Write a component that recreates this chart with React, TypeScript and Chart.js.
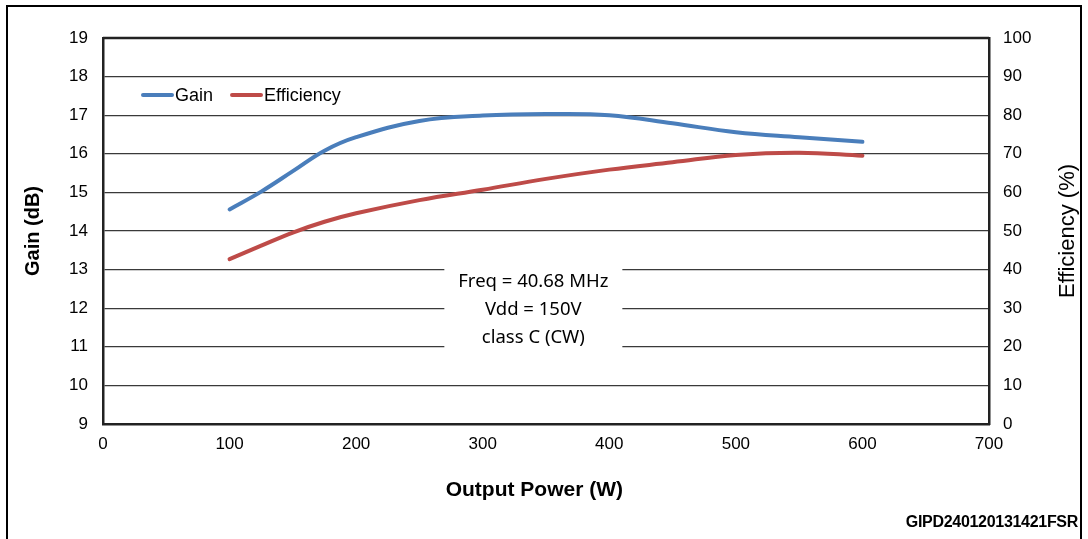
import React, { useEffect, useRef } from "react";
import { Chart, registerables } from "chart.js";

Chart.register(...registerables);

const powerW = [100, 125, 150, 175, 200, 250, 300, 350, 400, 450, 500, 550, 600];
const gainDb = [14.56, 15.02, 15.55, 16.08, 16.43, 16.85, 16.99, 17.03, 17.0, 16.79, 16.56, 16.43, 16.31];
const efficiencyPct = [42.7, 46.2, 49.6, 52.4, 54.6, 58.0, 60.7, 63.5, 65.9, 67.8, 69.7, 70.3, 69.5];

const annotationLines = ["Freq = 40.68 MHz", "Vdd = 150V", "class C (CW)"];
const seriesNames = ["Gain", "Efficiency"];
const seriesColors = ["#4A7EBB", "#BE4B48"];
const rightAxisTitle = "Efficiency (%)";
const figureCode = "GIPD240120131421FSR";

const ARIAL = "'Liberation Sans', Arial, sans-serif";

export default function App() {
  const canvasRef = useRef<HTMLCanvasElement | null>(null);

  useEffect(() => {
    const canvas = canvasRef.current;
    if (!canvas) return;

    const decorPlugin = {
      id: "decor",
      beforeDatasetsDraw(chart: any) {
        const { ctx, chartArea, scales } = chart;
        // annotation box
        const cx = scales.x.getPixelForValue(340);
        const cy = scales.y.getPixelForValue(12);
        ctx.save();
        ctx.fillStyle = "#ffffff";
        ctx.fillRect(cx - 89, cy - 45, 178, 90);
        ctx.fillStyle = "#000";
        ctx.font = `18.5px 'Noto Sans', sans-serif`;
        ctx.textAlign = "center";
        ctx.textBaseline = "middle";
        annotationLines.forEach((t, i) => {
          ctx.fillText(t, cx, cy + 2 + (i - 1) * 28);
        });
        // top border
        ctx.strokeStyle = "#222";
        ctx.lineWidth = 2.5;
        ctx.beginPath();
        ctx.moveTo(chartArea.left, chartArea.top);
        ctx.lineTo(chartArea.right, chartArea.top);
        ctx.stroke();
        ctx.restore();
      },
      afterDatasetsDraw(chart: any) {
        const { ctx, chartArea } = chart;
        ctx.save();
        // legend inside plot
        ctx.font = `18px ${ARIAL}`;
        ctx.textBaseline = "middle";
        ctx.textAlign = "left";
        const y = chartArea.top + 57;
        let x = chartArea.left + 40;
        chart.data.datasets.forEach((ds: any) => {
          ctx.strokeStyle = ds.borderColor;
          ctx.lineWidth = 4;
          ctx.lineCap = "round";
          ctx.beginPath();
          ctx.moveTo(x, y);
          ctx.lineTo(x + 29, y);
          ctx.stroke();
          ctx.fillStyle = "#000";
          ctx.fillText(ds.label, x + 32, y + 1);
          x += 32 + ctx.measureText(ds.label).width + 19;
        });
        // right axis title, reading bottom-to-top
        ctx.translate(1068, (chartArea.top + chartArea.bottom) / 2);
        ctx.rotate(-Math.PI / 2);
        ctx.font = `22px ${ARIAL}`;
        ctx.textAlign = "center";
        ctx.textBaseline = "middle";
        ctx.fillStyle = "#000";
        ctx.fillText(rightAxisTitle, 0, 0);
        ctx.restore();
      },
    };

    const lineDefaults = {
      borderWidth: 4,
      borderCapStyle: "round",
      borderJoinStyle: "round",
      pointRadius: 0,
      tension: 0.4,
    };

    const chart = new Chart(canvas, {
      type: "line",
      data: {
        labels: powerW,
        datasets: [
          {
            ...lineDefaults,
            label: seriesNames[0],
            data: powerW.map((p, i) => ({ x: p, y: gainDb[i] })),
            borderColor: seriesColors[0],
            backgroundColor: seriesColors[0],
            yAxisID: "y",
          },
          {
            ...lineDefaults,
            label: seriesNames[1],
            data: powerW.map((p, i) => ({ x: p, y: efficiencyPct[i] })),
            borderColor: seriesColors[1],
            backgroundColor: seriesColors[1],
            yAxisID: "y1",
          },
        ],
      },
      options: {
        animation: false,
        responsive: true,
        maintainAspectRatio: false,
        layout: { padding: { top: 38, left: 0, right: 0, bottom: 0 } },
        plugins: {
          legend: { display: false },
          tooltip: { enabled: false },
        },
        scales: {
          x: {
            type: "linear",
            min: 0,
            max: 700,
            ticks: { stepSize: 100, color: "#000", font: { family: ARIAL, size: 17 }, padding: 10 },
            grid: { display: false, drawTicks: false },
            border: { display: true, color: "#222", width: 2.5 },
            title: {
              display: true,
              text: "Output Power (W)    ",
              color: "#000",
              font: { family: ARIAL, size: 21, weight: "bold" },
              padding: { top: 0, bottom: 36 },
            },
            afterFit(scale: any) {
              scale.height = 115;
            },
          },
          y: {
            position: "left",
            min: 9,
            max: 19,
            ticks: { stepSize: 1, color: "#000", font: { family: ARIAL, size: 17 }, padding: 15 },
            grid: { color: "#3a3a3a", lineWidth: 1.3, drawTicks: false },
            border: { display: true, color: "#222", width: 2.5 },
            title: {
              display: true,
              text: "Gain (dB)",
              color: "#000",
              font: { family: ARIAL, size: 20, weight: "bold" },
              padding: { top: 21, bottom: 0 },
            },
            afterFit(scale: any) {
              scale.width = 103;
            },
          },
          y1: {
            position: "right",
            min: 0,
            max: 100,
            ticks: { stepSize: 10, color: "#000", font: { family: ARIAL, size: 17 }, padding: 14 },
            grid: { display: false, drawTicks: false },
            border: { display: true, color: "#222", width: 2.5 },
            title: { display: false },
            afterFit(scale: any) {
              scale.width = 99;
            },
          },
        },
      },
      plugins: [decorPlugin],
    } as any);

    return () => chart.destroy();
  }, []);

  return (
    <div
      style={{
        position: "absolute",
        left: 0,
        top: 0,
        width: 1088,
        height: 539,
        overflow: "hidden",
        background: "#fff",
      }}
    >
      <div
        style={{
          position: "absolute",
          left: 6,
          top: 5,
          width: 1072,
          height: 620,
          border: "2px solid #000",
        }}
      />
      <canvas ref={canvasRef} style={{ position: "absolute", left: 0, top: 0 }} />
      <div
        style={{
          position: "absolute",
          right: 10,
          top: 512,
          fontFamily: ARIAL,
          fontWeight: "bold",
          fontSize: 16,
          lineHeight: "20px",
          color: "#000",
          letterSpacing: "-0.3px",
        }}
      >
        {figureCode}
      </div>
    </div>
  );
}
